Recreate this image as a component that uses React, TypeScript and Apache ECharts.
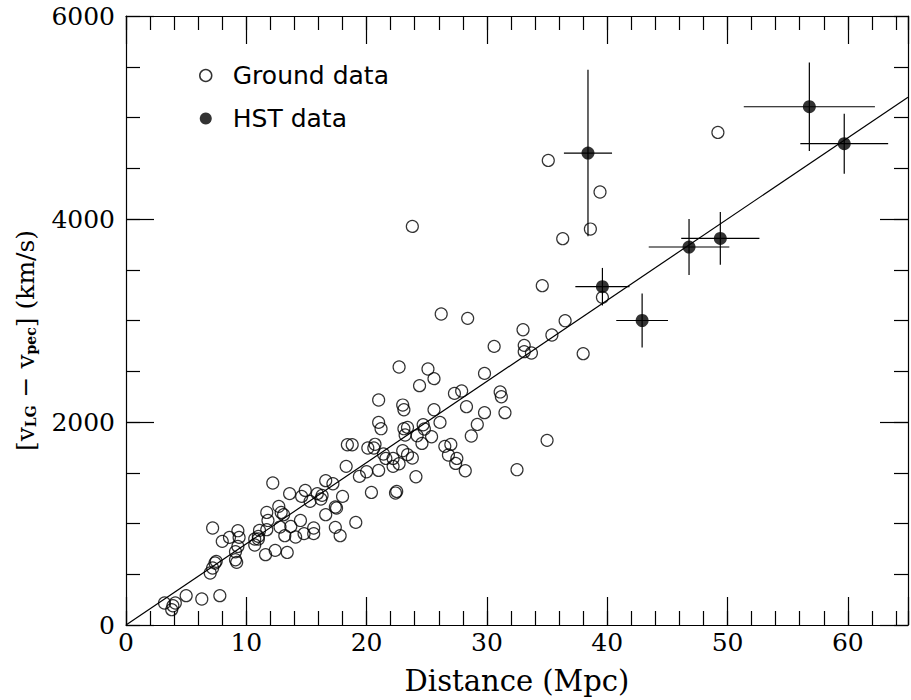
import React, { useEffect, useRef } from "react";
import * as echarts from "echarts";

// ---- Data ----
const groundDistance = [
  3.2, 3.9, 3.8, 4.1, 5.0, 6.3, 7.8,
  7.0, 7.2, 7.4, 7.5, 7.2, 8.0, 8.6, 9.1, 9.2, 9.1, 9.3, 9.3, 9.4,
  10.7, 11.0, 11.1, 10.7, 11.0, 11.7, 11.6, 12.4, 13.4,
  12.2, 11.7, 11.8, 12.7, 12.9, 13.1, 12.8, 13.2, 13.7, 14.5, 14.1, 14.8, 15.6, 15.6,
  13.6, 14.6, 14.9, 15.3, 15.9, 16.3, 16.2, 16.6, 17.2, 18.0,
  16.6, 17.4, 17.5, 19.1, 17.4, 17.8,
  18.3, 19.4, 20.0, 21.0, 20.4,
  18.4, 18.8, 20.1, 20.6, 20.7,
  21.0, 21.0, 21.2, 21.4, 21.6, 22.2, 22.7, 22.2, 22.4, 22.5, 24.1,
  22.7, 25.1, 25.6, 24.4, 29.8, 27.3, 27.9, 31.1, 31.2,
  23.0, 23.1, 25.6, 28.3, 29.8, 31.5,
  23.1, 23.4, 23.2, 24.7, 24.8, 26.1, 24.2, 25.4, 24.6, 29.2, 28.7,
  23.0, 23.4, 23.8,
  26.5, 27.0, 26.8, 27.5, 27.4, 28.2,
  32.5, 35.0,
  23.8, 38.6, 36.3, 34.6, 26.2, 28.4, 39.6, 33.0, 36.5, 35.4, 30.6, 33.1, 33.1, 33.7, 38.0,
  35.1, 39.4, 49.2,
];
const groundVelocity = [
  217, 190, 151, 217, 289, 256, 289,
  512, 562, 611, 627, 956, 824, 863, 643, 617, 722, 774, 929, 863,
  847, 873, 932, 788, 847, 939, 693, 735, 715,
  1399, 1109, 1030, 1169, 1109, 1087, 965, 880, 971, 1030, 867, 900, 956, 900,
  1294, 1267, 1326, 1218, 1294, 1277, 1241, 1422, 1392, 1267,
  1087, 1163, 1153, 1011, 962, 880,
  1563, 1464, 1510, 1523, 1306,
  1776, 1776, 1744, 1744, 1780,
  2217, 1996, 1934, 1685, 1641, 1641, 1589, 1563, 1300, 1316, 1461,
  2542, 2522, 2427, 2358, 2479, 2282, 2305, 2296, 2249,
  2167, 2121, 2121, 2151, 2092, 2092,
  1934, 1947, 1872, 1973, 1931, 1996, 1865, 1855, 1789, 1976, 1862,
  1717, 1678, 1645,
  1760, 1779, 1675, 1641, 1592, 1520,
  1530, 1819,
  3927, 3901, 3806, 3343, 3064, 3021, 3228, 2909, 2998, 2857, 2745, 2755, 2693, 2680, 2673,
  4577, 4266, 4853,
];

const hstDistance = [38.4, 39.6, 42.9, 46.8, 49.4, 56.8, 59.7];
const hstVelocity = [4650, 3333, 3000, 3724, 3809, 5106, 4742];
const hstDistErr = [2.0, 2.25, 2.15, 3.35, 3.25, 5.45, 3.65];
const hstVelErr = [820, 185, 265, 275, 260, 435, 295];

const fitDistance = [0, 65];
const fitVelocity = [0, 5200];

const xMin = 0;
const xMax = 65;
const yMin = 0;
const yMax = 6000;

const serif = "DejaVu Serif";
const sans = "DejaVu Sans";

function tickAxis(
  dim: "x" | "y",
  position: string,
  interval: number,
  length: number,
  showLine: boolean
) {
  return {
    type: "value",
    position,
    min: dim === "x" ? xMin : yMin,
    max: dim === "x" ? xMax : yMax,
    interval,
    splitLine: { show: false },
    axisLine: { show: showLine, onZero: false, lineStyle: { color: "#000", width: 1.2 } },
    axisTick: { show: true, inside: true, length, lineStyle: { color: "#000", width: 1.2 } },
    axisLabel: { show: false, inside: true },
  };
}

export default function App() {
  const ref = useRef<HTMLDivElement>(null);

  useEffect(() => {
    if (!ref.current) return;
    const chart = echarts.init(ref.current, undefined, { renderer: "svg" });

    const ground = groundDistance.map((d, i) => [d, groundVelocity[i]]);
    const hst = hstDistance.map((d, i) => [d, hstVelocity[i]]);
    const hstErr = hstDistance.map((d, i) => [d, hstVelocity[i], hstDistErr[i], hstVelErr[i]]);
    const fit = fitDistance.map((d, i) => [d, fitVelocity[i]]);

    const xMain: any = tickAxis("x", "bottom", 10, 28, true);
    xMain.axisLabel = {
      show: true,
      inside: false,
      margin: 5,
      fontFamily: serif,
      fontSize: 25,
      color: "#000",
      formatter: (v: number) => (v % 10 === 0 ? String(v) : ""),
    };
    xMain.name = "Distance (Mpc)";
    xMain.nameLocation = "middle";
    xMain.nameGap = 41;
    xMain.nameTextStyle = { fontFamily: serif, fontSize: 29, color: "#000" };

    const yMain: any = tickAxis("y", "left", 2000, 28, true);
    yMain.axisLabel = {
      show: true,
      inside: false,
      margin: 11,
      fontFamily: serif,
      fontSize: 25,
      color: "#000",
      formatter: (v: number) => String(v),
    };
    yMain.name = "{n|[v}{s|LG}{n| − v}{s|pec}{n|] (km/s)}";
    yMain.nameLocation = "middle";
    yMain.nameGap = 88;
    yMain.nameTextStyle = {
      fontFamily: serif,
      fontSize: 25,
      color: "#000",
      padding: [0, 40, 0, 0],
      rich: {
        n: { fontFamily: serif, fontSize: 25, lineHeight: 30, verticalAlign: "bottom", color: "#000" },
        s: {
          fontFamily: serif,
          fontSize: 14,
          fontWeight: "bold",
          lineHeight: 14,
          verticalAlign: "bottom",
          color: "#000",
        },
      },
    };

    chart.setOption({
      animation: false,
      backgroundColor: "#fff",
      grid: { left: 126, right: -8, top: 16, bottom: 75, containLabel: false },
      legend: {
        orient: "vertical",
        left: 194,
        top: 58,
        itemWidth: 12,
        itemHeight: 12,
        itemGap: 18,
        selectedMode: false,
        textStyle: {
          fontFamily: sans,
          fontSize: 25,
          color: "#000",
          padding: [0, 0, 0, 16],
        },
        data: [
          {
            name: "Ground data",
            icon: "circle",
            itemStyle: { color: "rgba(0,0,0,0)", borderColor: "#000", borderWidth: 1.5 },
          },
          { name: "HST data", icon: "circle", itemStyle: { color: "#000" } },
        ],
      },
      xAxis: [
        xMain,
        tickAxis("x", "bottom", 2, 14, false),
        tickAxis("x", "top", 10, 28, true),
        tickAxis("x", "top", 2, 14, false),
      ],
      yAxis: [
        yMain,
        tickAxis("y", "left", 500, 14, false),
        tickAxis("y", "right", 2000, 28, true),
        tickAxis("y", "right", 500, 14, false),
      ],
      series: [
        {
          name: "Fit",
          type: "line",
          data: fit,
          showSymbol: false,
          symbol: "none",
          lineStyle: { color: "#000", width: 1.2 },
          z: 1,
          silent: true,
        },
        {
          name: "Ground data",
          type: "scatter",
          data: ground,
          symbol: "circle",
          symbolSize: 12,
          itemStyle: { color: "rgba(0,0,0,0)", borderColor: "#000", borderWidth: 1.2 },
          z: 3,
        },
        {
          name: "HST errors",
          type: "custom",
          data: hstErr,
          encode: { x: 0, y: 1 },
          z: 4,
          silent: true,
          renderItem: (_params: any, api: any) => {
            const x = api.value(0);
            const y = api.value(1);
            const ex = api.value(2);
            const ey = api.value(3);
            const l = api.coord([x - ex, y]);
            const r = api.coord([x + ex, y]);
            const b = api.coord([x, y - ey]);
            const t = api.coord([x, y + ey]);
            const st = { stroke: "#000", lineWidth: 1.2 };
            return {
              type: "group",
              children: [
                { type: "line", shape: { x1: l[0], y1: l[1], x2: r[0], y2: r[1] }, style: st },
                { type: "line", shape: { x1: b[0], y1: b[1], x2: t[0], y2: t[1] }, style: st },
              ],
            };
          },
        },
        {
          name: "HST data",
          type: "scatter",
          data: hst,
          symbol: "circle",
          symbolSize: 13,
          itemStyle: { color: "#000" },
          z: 5,
        },
      ],
    });

    return () => chart.dispose();
  }, []);

  return (
    <div
      ref={ref}
      style={{ position: "absolute", left: 0, top: 0, width: 911, height: 700, background: "#fff" }}
    />
  );
}
